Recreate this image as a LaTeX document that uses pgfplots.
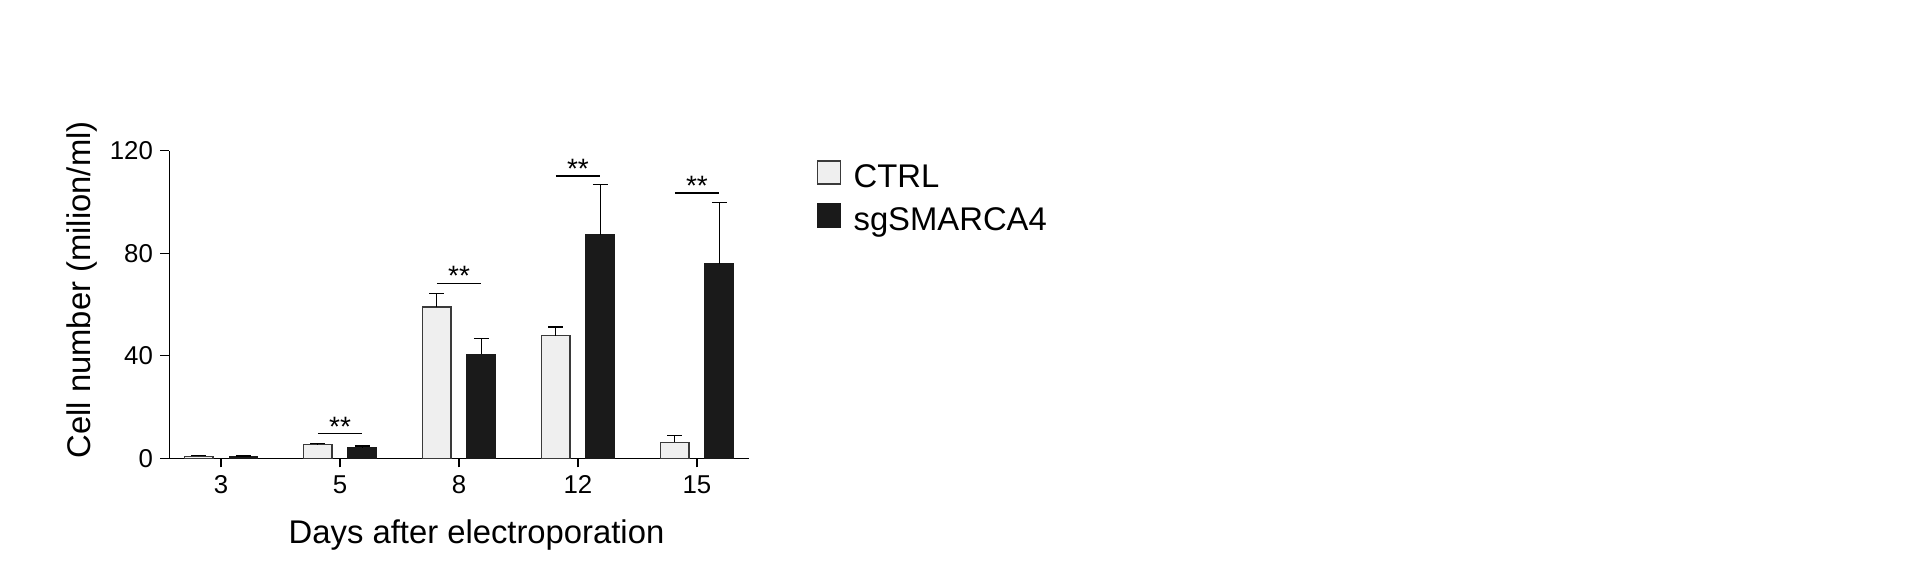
\documentclass[border=0pt]{standalone}
\usepackage{fontspec}
\setmainfont{Liberation Sans}
\usepackage{pgfplots}
\pgfplotsset{compat=1.18}

\definecolor{ctrlfill}{HTML}{EFEFEF}
\definecolor{ctrledge}{HTML}{3A3A3A}
\definecolor{sgfill}{HTML}{1A1A1A}

\begin{document}
\begin{tikzpicture}
\useasboundingbox (-84.65pt,-52.85pt) rectangle (875.35pt,229.15pt);
\begin{axis}[
    at={(0pt,0pt)}, anchor=south west,
    scale only axis,
    width=290pt, height=153.8pt,
    ybar, bar width=14.2pt,
    axis lines*=left,
    axis line style={line width=0.65pt, black},
    xmin=-0.435, xmax=4.44,
    ymin=0, ymax=120,
    xtick={0,1,2,3,4},
    xticklabels={3,5,8,12,15},
    ytick={0,40,80,120},
    tick align=outside,
    major tick length=4.5pt,
    tick style={line width=0.65pt, black},
    /pgf/number format/assume math mode=true,
    ticklabel style={font=\fontsize{12.9}{14}\selectfont, inner sep=0pt},
    yticklabel style={xshift=-3.5pt},
    xticklabel style={yshift=-3.8pt},
    xlabel={Days after electroporation},
    ylabel={Cell number (milion/ml)},
    label style={font=\fontsize{16.4}{19}\selectfont, inner sep=0pt},
    xlabel style={at={(axis description cs:0.5297,-0.2763)}, anchor=base},
    ylabel style={at={(axis description cs:-0.1367,0.5475)}, anchor=base},
    legend style={draw=none, fill=none, inner sep=0pt, outer sep=0pt,
        at={(rel axis cs:1.1162,0.9688)}, anchor=north west,
        font=\fontsize{16.4}{19}\selectfont,
        nodes={inner sep=0pt, text height=12pt, text depth=3pt},
        row sep=4.85pt, column sep=6.3pt},
    legend cell align=left,
    legend image code/.code={\draw[#1, line width=0.65pt] (0pt,-2.6pt) rectangle (11.5pt,8.9pt);},
    clip=false,
]

% CTRL
\addplot[bar shift=-11.15pt,
    fill=ctrlfill, draw=ctrledge, line width=0.65pt,
    error bars/.cd, y dir=plus, y explicit,
    error mark=|,
    error bar style={line width=0.6pt, black},
    error mark options={line width=0.6pt, black, mark size=3.7pt}]
    coordinates {
    (0,0.8) +- (0,0.3)
    (1,5.3) +- (0,0.5)
    (2,59.0) +- (0,5.4)
    (3,47.8) +- (0,3.4)
    (4,6.2) +- (0,2.6)
    };
\addlegendentry{CTRL}

% sgSMARCA4
\addplot[bar shift=11.15pt,
    fill=sgfill, draw=sgfill, line width=0.65pt,
    error bars/.cd, y dir=plus, y explicit,
    error mark=|,
    error bar style={line width=0.6pt, black},
    error mark options={line width=0.6pt, black, mark size=3.7pt}]
    coordinates {
    (0,0.7) +- (0,0.2)
    (1,4.2) +- (0,0.6)
    (2,40.5) +- (0,6.2)
    (3,87.1) +- (0,19.7)
    (4,75.9) +- (0,23.9)
    };
\addlegendentry{sgSMARCA4}

% significance lines
\addplot[sharp plot, black, line width=0.6pt, forget plot] coordinates {(0.814,9.6) (1.186,9.6)};
\addplot[sharp plot, black, line width=0.6pt, forget plot] coordinates {(1.814,68.2) (2.186,68.2)};
\addplot[sharp plot, black, line width=0.6pt, forget plot] coordinates {(2.814,110.1) (3.186,110.1)};
\addplot[sharp plot, black, line width=0.6pt, forget plot] coordinates {(3.814,103.5) (4.186,103.5)};

\node[anchor=base, yshift=-1.2pt, font=\fontsize{14}{16}\selectfont, inner sep=0pt] at (axis cs:1,9.6) {**};
\node[anchor=base, yshift=-1.2pt, font=\fontsize{14}{16}\selectfont, inner sep=0pt] at (axis cs:2,68.2) {**};
\node[anchor=base, yshift=-1.2pt, font=\fontsize{14}{16}\selectfont, inner sep=0pt] at (axis cs:3,110.1) {**};
\node[anchor=base, yshift=-1.2pt, font=\fontsize{14}{16}\selectfont, inner sep=0pt] at (axis cs:4,103.5) {**};

\end{axis}
\end{tikzpicture}
\end{document}
